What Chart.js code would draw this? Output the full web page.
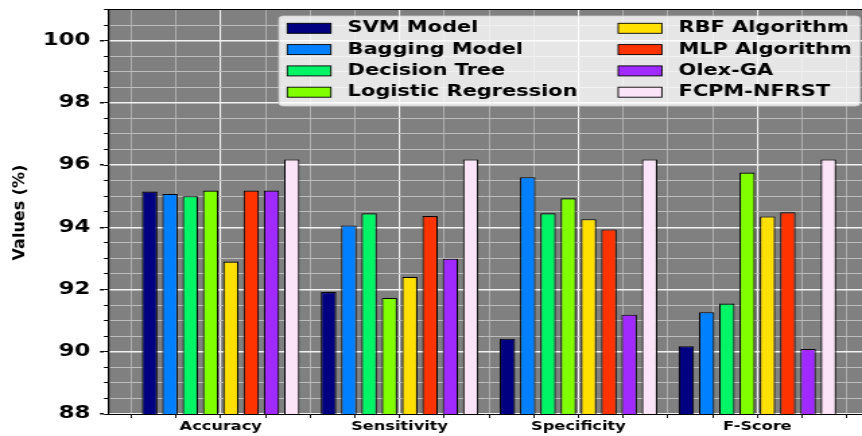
<!DOCTYPE html>
<html>
<head>
<meta charset="utf-8">
<script src="https://cdn.jsdelivr.net/npm/chart.js@4.4.1/dist/chart.umd.min.js"></script>
<style>
  html, body { margin: 0; padding: 0; background: #fff; overflow: hidden; }
  /* the reference is stretched sideways, so the canvas is drawn narrower and widened */
  #grafica { display: block; transform: scaleX(1.346875); transform-origin: 0 0; }
</style>
</head>
<body>
<canvas id="grafica" width="640" height="436"></canvas>
<script>
const categories = ['Accuracy', 'Sensitivity', 'Specificity', 'F-Score'];
const models = ['SVM Model', 'Bagging Model', 'Decision Tree', 'Logistic Regression',
                'RBF Algorithm', 'MLP Algorithm', 'Olex-GA', 'FCPM-NFRST'];

const svmModel     = [95.15, 91.92, 90.42, 90.18];
const baggingModel = [95.07, 94.06, 95.61, 91.27];
const decisionTree = [95.00, 94.45, 94.45, 91.55];
const logisticReg  = [95.18, 91.73, 94.93, 95.76];
const rbfAlgorithm = [92.90, 92.41, 94.26, 94.35];
const mlpAlgorithm = [95.18, 94.36, 93.93, 94.48];
const olexGA       = [95.18, 92.99, 91.19, 90.09];
const fcpmNfrst    = [96.18, 96.18, 96.18, 96.18];

const yTicks = [88, 90, 92, 94, 96, 98, 100];

const series = [svmModel, baggingModel, decisionTree, logisticReg,
                rbfAlgorithm, mlpAlgorithm, olexGA, fcpmNfrst];
const colors = ['#000080', '#0080ff', '#00f566', '#7fff00',
                '#ffe000', '#ff3300', '#a02aff', '#fce4f8'];

const SX = 862 / 640;
const X_MIN = -0.63, X_MAX = 3.585;
const Y_MIN = 88, Y_MAX = 101;
const tickFont = { family: 'DejaVu Sans', weight: 'bold' };

const isMajorY = c => c.tick !== undefined && yTicks.includes(c.tick.value);
const isMajorX = c => c.tick !== undefined && Number.isInteger(c.tick.value);

// gray plot background
const fondo = {
    id: 'fondo',
    beforeDraw(chart) {
        const { ctx, chartArea: a } = chart;
        ctx.save();
        ctx.fillStyle = '#808080';
        ctx.fillRect(a.left, a.top, a.right - a.left, a.bottom - a.top);
        ctx.restore();
    }
};

// top spine, y title and the two-column legend box
const extras = {
    id: 'extras',
    afterDraw(chart) {
        const { ctx, chartArea: a } = chart;
        ctx.save();
        ctx.strokeStyle = '#000';
        ctx.lineWidth = 1.2;
        ctx.beginPath();
        ctx.moveTo(a.left, a.top);
        ctx.lineTo(a.right, a.top);
        ctx.stroke();

        // y title is not widened in the reference
        ctx.save();
        ctx.scale(1 / SX, 1);
        ctx.translate(20, 212.5);
        ctx.rotate(-Math.PI / 2);
        ctx.font = 'bold 16px DejaVu Sans';
        ctx.fillStyle = '#000';
        ctx.textAlign = 'center';
        ctx.textBaseline = 'middle';
        ctx.fillText('Values (%)', 0, 0);
        ctx.restore();

        // legend
        ctx.fillStyle = 'rgba(255,255,255,0.8)';
        ctx.strokeStyle = 'rgba(204,204,204,0.8)';
        ctx.lineWidth = 1;
        ctx.beginPath();
        ctx.roundRect(207.1, 16, 431.4, 90, 3);
        ctx.fill();
        ctx.stroke();
        ctx.font = 'bold 15.5px DejaVu Sans';
        ctx.textBaseline = 'middle';
        chart.data.datasets.forEach((ds, k) => {
            const x = k < 4 ? 213.3 : 459;
            const y = 28.3 + (k % 4) * 21.3;
            ctx.fillStyle = ds.backgroundColor;
            ctx.fillRect(x, y - 5, 32.4, 10);
            ctx.strokeStyle = '#000';
            ctx.lineWidth = 0.9;
            ctx.strokeRect(x, y - 5, 32.4, 10);
            ctx.fillStyle = '#000';
            ctx.fillText(ds.label, x + 44.8, y);
        });
        ctx.restore();
    }
};

new Chart(document.getElementById('grafica'), {
    type: 'bar',
    data: {
        datasets: models.map((name, k) => ({
            label: name,
            data: series[k].map((v, i) => ({ x: i, y: v })),
            backgroundColor: colors[k],
            borderColor: '#000',
            borderWidth: 1.1,
            xAxisID: 'x',
            yAxisID: 'y',
            categoryPercentage: 0.908,
            barPercentage: 0.76
        }))
    },
    options: {
        responsive: false,
        animation: false,
        layout: { padding: { top: 9.5, bottom: 0, left: 0, right: 0 } },
        plugins: {
            legend: { display: false },
            tooltip: { enabled: false }
        },
        scales: {
            x: {
                type: 'linear', axis: 'x', position: 'bottom', weight: 1,
                min: X_MIN, max: X_MAX, offset: false,
                border: { display: false },
                grid: { offset: false, drawTicks: false, color: '#f2f2f2', lineWidth: 1.1 },
                ticks: {
                    stepSize: 1, includeBounds: false, autoSkip: false, maxRotation: 0,
                    padding: 2, color: '#000',
                    font: { ...tickFont, size: 12 },
                    callback: v => categories[v] ?? ''
                },
                afterFit(scale) { scale.height = 18; }
            },
            xMinor: {
                type: 'linear', axis: 'x', position: 'bottom', weight: 0,
                min: X_MIN, max: X_MAX, offset: false,
                border: { display: true, color: '#000', width: 1 },
                grid: {
                    offset: false,
                    color: c => isMajorX(c) ? 'rgba(0,0,0,0)' : '#bdbdbd',
                    lineWidth: 0.75, tickColor: '#000', tickLength: 4, tickWidth: 0.9
                },
                ticks: { display: false, stepSize: 0.25, includeBounds: false, autoSkip: false }
            },
            y: {
                type: 'linear', axis: 'y', position: 'left', weight: 1,
                min: Y_MIN, max: Y_MAX,
                border: { display: false },
                grid: {
                    color: c => isMajorY(c) ? '#f2f2f2' : 'rgba(0,0,0,0)',
                    lineWidth: 1.5,
                    tickColor: c => isMajorY(c) ? '#000' : 'rgba(0,0,0,0)',
                    tickLength: 3
                },
                ticks: {
                    stepSize: 0.5, autoSkip: false, padding: 7, color: '#000',
                    font: { ...tickFont, size: 17 },
                    callback: v => yTicks.includes(v) ? v : ''
                },
                afterFit(scale) {
                    scale.width = 77.2;
                    scale.paddingTop = 0;
                    scale.paddingBottom = 0;
                }
            },
            yMinor: {
                type: 'linear', axis: 'y', position: 'left', weight: 0,
                min: Y_MIN, max: Y_MAX,
                border: { display: true, color: '#000', width: 1.2 },
                grid: {
                    color: c => isMajorY(c) ? 'rgba(0,0,0,0)' : '#bdbdbd',
                    lineWidth: 1, tickColor: '#000', tickLength: 3
                },
                ticks: { display: false, stepSize: 0.5, autoSkip: false }
            }
        }
    },
    plugins: [fondo, extras]
});
</script>
</body>
</html>
